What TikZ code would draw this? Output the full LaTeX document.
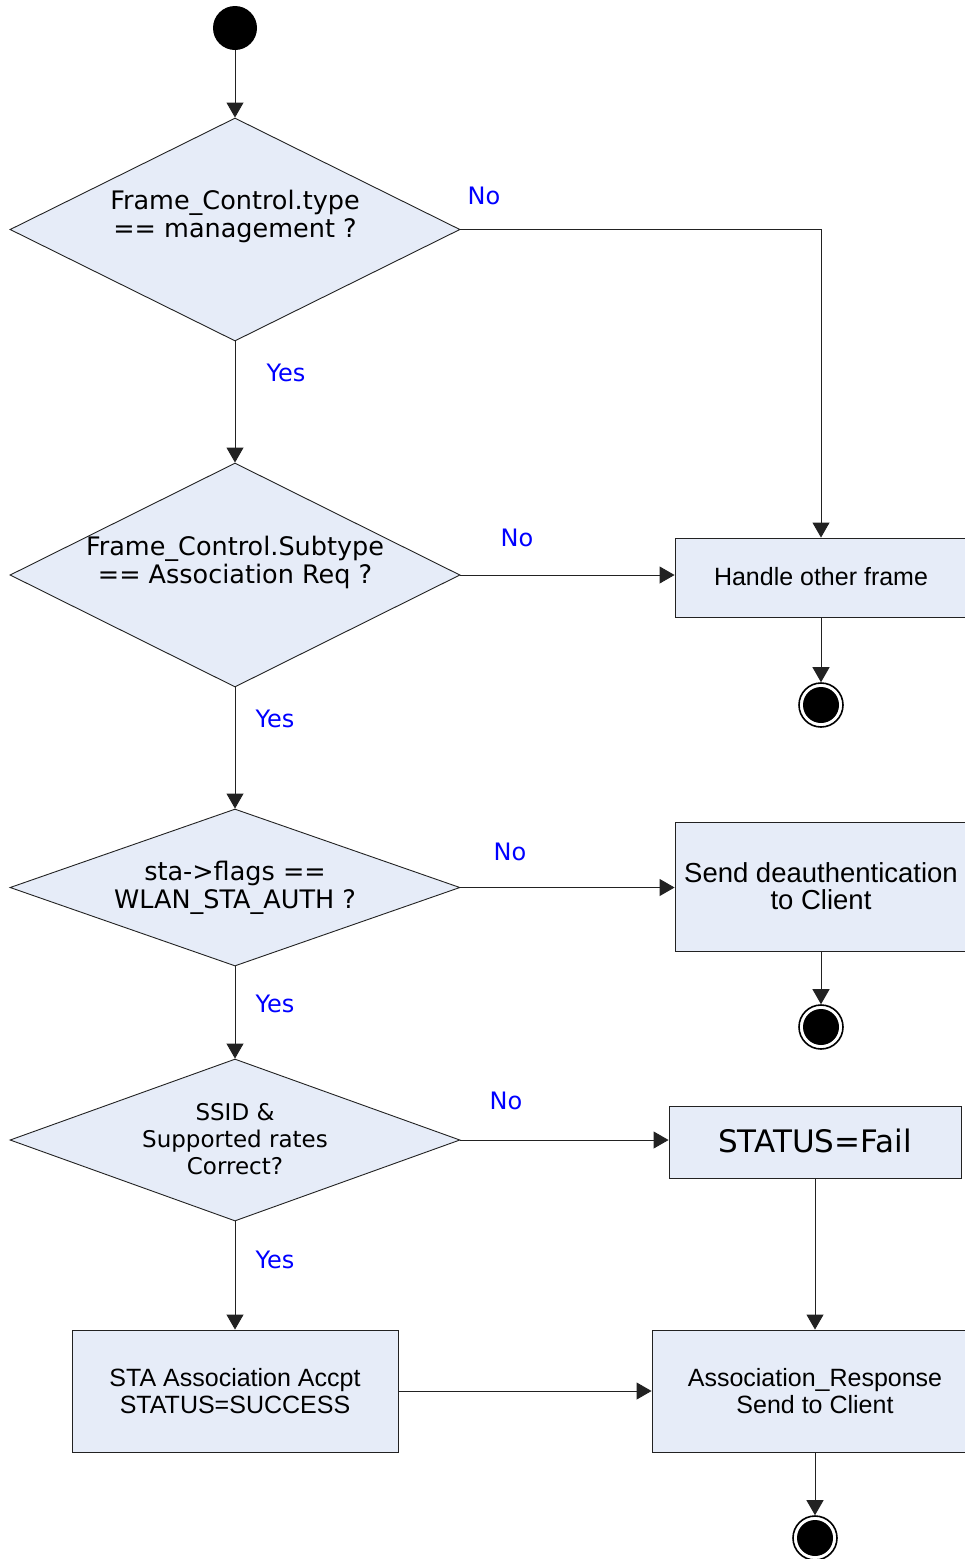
\documentclass[tikz,border=0pt]{standalone}
\usepackage{fontspec}
\setmainfont{DejaVu Sans}
\newfontfamily\arialf{Liberation Sans}
\usetikzlibrary{shapes.geometric,arrows.meta}
\definecolor{boxfill}{HTML}{E6ECF8}
\definecolor{linecol}{HTML}{222222}
\begin{document}
\begin{tikzpicture}[x=1pt,y=-1pt,
  dec/.style={diamond, draw=linecol, fill=boxfill, minimum width=450pt, inner sep=0pt, line width=0.9pt},
  actbox/.style={rectangle, draw=linecol, fill=boxfill, inner sep=0pt, line width=0.9pt},
  txt/.style={font=\fontsize{25.5}{28}\selectfont, align=center, inner sep=0pt},
  atxt/.style={font=\arialf\fontsize{25}{27}\selectfont, align=center, inner sep=0pt},
  lbl/.style={text=blue, font=\fontsize{24}{26}\selectfont, inner sep=0pt},
  flow/.style={draw=linecol, line width=0.9pt, -{Triangle[length=15pt,width=17pt]}},
  startst/.style={circle, fill=black, minimum size=44pt, inner sep=0pt},
  endst/.style={circle, draw=black, line width=1.6pt, fill=white, minimum size=44pt, inner sep=0pt,
    path picture={\fill[black] (path picture bounding box.center) circle (18pt);}}
]
\useasboundingbox (0,0) rectangle (965,1559);
\clip (0,0) rectangle (965,1559);
\fill[white] (0,0) rectangle (965,1559);

% start
\node[startst] (start) at (235,28) {};

% decisions
\node[dec, minimum height=223pt] (d1) at (235,229.5) {};
\node[txt] (t1) at (235,216) {Frame\_Control.type\\== management ?};

\node[dec, minimum height=224pt] (d2) at (235,575) {};
\node[txt] (t2) at (235,562) {Frame\_Control.Subtype\\== Association Req ?};

\node[dec, minimum height=157pt] (d3) at (235,887.5) {};
\node[txt] (t3) at (235,888) {sta->flags ==\\WLAN\_STA\_AUTH ?};

\node[dec, minimum height=162pt] (d4) at (235,1140) {};
\node[txt, font=\fontsize{23}{27}\selectfont] (t4) at (235,1139) {SSID \&\\Supported rates\\Correct?};

% boxes
\node[actbox, minimum width=292pt, minimum height=79pt] (h) at (821,577.5) {};
\node[atxt] (th) at (821,577) {Handle other frame};

\node[actbox, minimum width=292pt, minimum height=129pt] (de) at (821,886.5) {};
\node[atxt, font=\arialf\fontsize{27.5}{27}\selectfont] (tde) at (821,886) {Send deauthentication\\to Client};

\node[actbox, minimum width=292pt, minimum height=72pt] (fail) at (815,1142) {};
\node[txt, font=\fontsize{31}{34}\selectfont] (tfail) at (815,1141) {STATUS=Fail};

\node[actbox, minimum width=326pt, minimum height=122pt] (sta) at (235,1391) {};
\node[atxt] (tsta) at (235,1391) {STA Association Accpt\\STATUS=SUCCESS};

\node[actbox, minimum width=326pt, minimum height=122pt] (as) at (815,1391) {};
\node[atxt] (tas) at (815,1391) {Association\_Response\\Send to Client};

% ends
\node[endst] (e1) at (821,705) {};
\node[endst] (e2) at (821,1027) {};
\node[endst] (e3) at (815,1538) {};

% connectors
\draw[flow] (start) -- (d1.north);
\draw[flow] (d1.east) -| (h.north);
\draw[flow] (d1.south) -- (d2.north);
\draw[flow] (d2.east) -- (d2.east -| h.west);
\draw[flow] (h.south) -- (e1.north);
\draw[flow] (d2.south) -- (d3.north);
\draw[flow] (d3.east) -- (d3.east -| de.west);
\draw[flow] (de.south) -- (e2.north);
\draw[flow] (d3.south) -- (d4.north);
\draw[flow] (d4.east) -- (d4.east -| fail.west);
\draw[flow] (fail.south) -- (as.north);
\draw[flow] (d4.south) -- (sta.north);
\draw[flow] (sta.east) -- (as.west);
\draw[flow] (as.south) -- (e3.north);

% labels
\node[lbl] (n1) at (484,196) {No};
\node[lbl] (y1) at (286,373) {Yes};
\node[lbl] (n2) at (517,538) {No};
\node[lbl] (y2) at (275,719) {Yes};
\node[lbl] (n3) at (510,852) {No};
\node[lbl] (y3) at (275,1004) {Yes};
\node[lbl] (n4) at (506,1101) {No};
\node[lbl] (y4) at (275,1260) {Yes};
\end{tikzpicture}
\end{document}
